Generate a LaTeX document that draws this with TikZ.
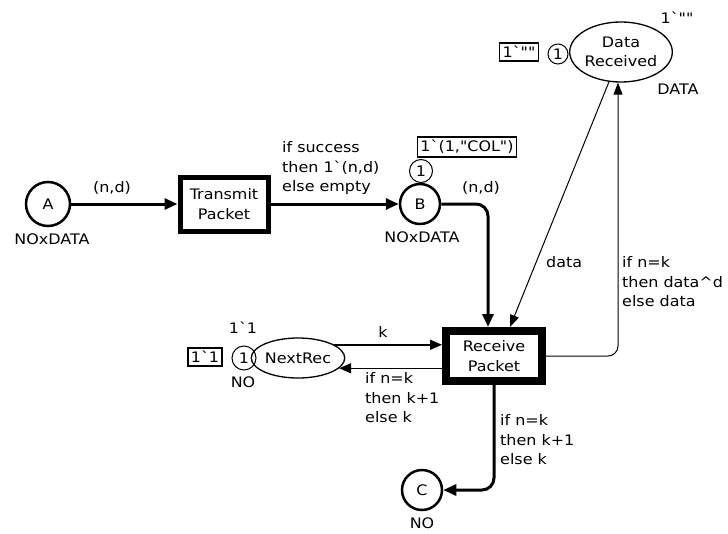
\documentclass[tikz,border=0pt]{standalone}
\usepackage{fontspec}
\setmainfont{DejaVu Sans}[FakeStretch=1.1,Ligatures=TeXOff]
\usetikzlibrary{arrows.meta,shapes.geometric}
\begin{document}
\begin{tikzpicture}[x=1pt,y=-1pt,
  every node/.style={font=\fontsize{14.5}{19.5}\selectfont, inner sep=0pt},
  place/.style={circle,draw,line width=2.5pt,minimum size=40pt},
  trans/.style={draw,rectangle,align=center},
  token/.style={circle,draw,line width=1pt,minimum size=23pt},
  initbox/.style={draw,line width=1.5pt,inner xsep=3pt,inner ysep=3pt},
  ell/.style={ellipse,draw,line width=1.3pt,align=center},
  lbl/.style={align=left,anchor=west},
  arcthick/.style={line width=3pt,-{Triangle[length=13pt,width=11pt]}},
  arcmed/.style={line width=1.5pt,-{Triangle[length=12pt,width=10pt]}},
  arcthin/.style={line width=1pt,-{Triangle[length=12pt,width=9pt]}}
]
\useasboundingbox (0,0) rectangle (728,533);

% places
\node[place, minimum size=44pt] (A) at (48,204) {A};
\node (Atype) at (52,239) {NOxDATA};

\node[place] (B) at (420,204) {B};
\node[token] (tB) at (421,171) {1};
\node[initbox] (iB) at (467,147) {1`(1,"COL")};
\node (Btype) at (422,237) {NOxDATA};

\node[place] (C) at (422,490) {C};
\node (Ctype) at (422,523) {NO};

\node[ell, minimum width=102pt, minimum height=60pt] (D) at (621,52) {Data\\Received};
\node[token, minimum size=20pt] (tD) at (558,54) {1};
\node[initbox] (iD) at (519,52) {1`""};
\node (Dmark) at (677,18) {1`""};
\node (Dtype) at (678,89) {DATA};

\node[ell, minimum width=92pt, minimum height=40pt] (N) at (298,358) {NextRec};
\node[token, minimum size=24pt] (tN) at (244,358) {1};
\node[initbox] (iN) at (205,357) {1`1};
\node (Nmark) at (243,328) {1`1};
\node (Ntype) at (243,382) {NO};

% transitions
\node[trans, line width=5pt, minimum width=88pt, minimum height=54pt] (T) at (224,204) {Transmit\\Packet};
\node[trans, line width=8pt, minimum width=96pt, minimum height=50pt] (R) at (494,356) {Receive\\Packet};

% arcs
\draw[arcthick] (A) -- (T);
\node (lAT) at (112,188) {(n,d)};

\draw[arcthick] (T) -- (B);
\node[lbl] (lTB) at (282,168) {if success\\then 1`(n,d)\\else empty};

\draw[arcthick, rounded corners=12pt] (B.east) -| ([xshift=-6pt]R.north);
\node (lBR) at (481,188) {(n,d)};

\draw[arcthin] (D) -- ([xshift=16pt]R.north);
\node[lbl] (lDR) at (546,262) {data};

\draw[arcthin, rounded corners=10pt] (R.east) -| ([xshift=-3pt]D.south);
\node[lbl] (lRD) at (622,282) {if n=k\\then data\textasciicircum d\\else data};

\draw[arcmed] (N.20) -- (N.20 -| R.west);
\node (lNR) at (383,332) {k};
\draw[arcmed] (N.-14 -| R.west) -- (N.-14);
\node[lbl] (lRN) at (365,398) {if n=k\\then k+1\\else k};

\draw[arcthick, rounded corners=12pt] (R.south) |- (C.east);
\node[lbl] (lRC) at (500,440) {if n=k\\then k+1\\else k};
\end{tikzpicture}
\end{document}
